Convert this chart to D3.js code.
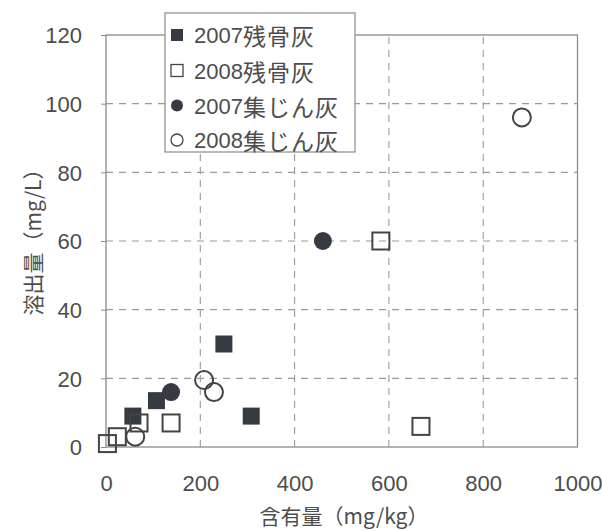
<!DOCTYPE html>
<html>
<head>
<meta charset="utf-8">
<script src="https://cdn.jsdelivr.net/npm/d3@7"></script>
<style>
  html, body { margin: 0; padding: 0; background: #fff; }
  svg { display: block; }
</style>
</head>
<body>
<svg id="chart" width="602" height="531"></svg>
<script>
// 含有量 (mg/kg) vs 溶出量 (mg/L)
const seriesNames = ["2007残骨灰", "2008残骨灰", "2007集じん灰", "2008集じん灰"];
const ash2007 = [[57, 9], [107, 13.5], [250, 30], [308, 9]];
const ash2008 = [[3, 1], [24, 3], [70, 7], [138, 7], [583, 60], [668, 6]];
const dust2007 = [[138, 16], [460, 60]];
const dust2008 = [[62, 3], [208, 19.5], [229, 16], [882, 96]];
const xTicks = [0, 200, 400, 600, 800, 1000];
const yTicks = [0, 20, 40, 60, 80, 100, 120];
const xTitle = "含有量（mg/kg）";
const yTitle = "溶出量（mg/L）";

const svg = d3.select("#chart");
const x = d3.scaleLinear().domain([0, 1000]).range([106, 577.5]);
const y = d3.scaleLinear().domain([0, 120]).range([447, 35]);

const textColor = "#4d4d4d";
const numFont = "'Liberation Sans', Arial, sans-serif";
const cjkFont = "'Noto Sans CJK JP', sans-serif";

// dashed grid
const grid = svg.append("g");
grid.selectAll("line.h").data(yTicks.filter(v => v > 0 && v < 120)).join("line")
  .attr("x1", x(0)).attr("x2", x(1000))
  .attr("y1", d => y(d)).attr("y2", d => y(d))
  .attr("stroke", "#9a9a9a").attr("stroke-width", 1.1).attr("stroke-dasharray", "7,6");
grid.selectAll("line.v").data(xTicks.filter(v => v > 0 && v < 1000)).join("line")
  .attr("y1", y(0)).attr("y2", y(120))
  .attr("x1", d => x(d)).attr("x2", d => x(d))
  .attr("stroke", "#9a9a9a").attr("stroke-width", 1.1).attr("stroke-dasharray", "7,6");

// plot frame
svg.append("rect")
  .attr("x", x(0)).attr("y", y(120))
  .attr("width", x(1000) - x(0)).attr("height", y(0) - y(120))
  .attr("fill", "none").attr("stroke", "#8a8a8a").attr("stroke-width", 1.3);

// axes
const yAxis = svg.append("g").attr("transform", `translate(${x(0)},0)`)
  .call(d3.axisLeft(y).tickValues(yTicks).tickSize(5).tickPadding(19));
const xAxis = svg.append("g").attr("transform", `translate(0,${y(0)})`)
  .call(d3.axisBottom(x).tickValues(xTicks).tickFormat(d3.format("d")).tickSize(0).tickPadding(36));
[xAxis, yAxis].forEach(g => {
  g.select(".domain").remove();
  g.selectAll(".tick line").attr("stroke", "#8a8a8a");
  g.selectAll(".tick text")
    .attr("fill", textColor).attr("font-family", numFont).attr("font-size", 22);
});
yAxis.selectAll(".tick text").attr("dy", "0.36em");
xAxis.selectAll(".tick text").attr("dy", "0.36em");

// axis titles
svg.append("text")
  .attr("x", 344).attr("y", 515)
  .attr("text-anchor", "middle").attr("dominant-baseline", "central")
  .attr("font-family", cjkFont).attr("font-size", 21).attr("fill", textColor)
  .text(xTitle);
svg.append("text")
  .attr("transform", "translate(32,237) rotate(-90)")
  .attr("text-anchor", "middle").attr("dominant-baseline", "central")
  .attr("font-family", cjkFont).attr("font-size", 21).attr("fill", textColor)
  .text(yTitle);

// markers
const markColor = "#444";
const fillColor = "#363a42";
const sq = 17, r = 9;
const marks = svg.append("g");
marks.selectAll("rect.a7").data(ash2007).join("rect")
  .attr("x", d => x(d[0]) - sq / 2).attr("y", d => y(d[1]) - sq / 2)
  .attr("width", sq).attr("height", sq).attr("fill", fillColor);
marks.selectAll("rect.a8").data(ash2008).join("rect")
  .attr("x", d => x(d[0]) - sq / 2).attr("y", d => y(d[1]) - sq / 2)
  .attr("width", sq).attr("height", sq)
  .attr("fill", "none").attr("stroke", markColor).attr("stroke-width", 2);
marks.selectAll("circle.d7").data(dust2007).join("circle")
  .attr("cx", d => x(d[0])).attr("cy", d => y(d[1])).attr("r", r)
  .attr("fill", fillColor);
marks.selectAll("circle.d8").data(dust2008).join("circle")
  .attr("cx", d => x(d[0])).attr("cy", d => y(d[1])).attr("r", r)
  .attr("fill", "none").attr("stroke", markColor).attr("stroke-width", 2);

// legend
const legend = svg.append("g");
legend.append("rect")
  .attr("x", 165).attr("y", 13).attr("width", 190).attr("height", 139)
  .attr("fill", "#fff").attr("stroke", "#8a8a8a").attr("stroke-width", 1.2);
const rowY = [35, 70.5, 105.5, 140];
const lx = 177, ls = 12;
legend.append("rect").attr("x", lx - ls / 2).attr("y", rowY[0] - ls / 2)
  .attr("width", ls).attr("height", ls).attr("fill", fillColor);
legend.append("rect").attr("x", lx - ls / 2).attr("y", rowY[1] - ls / 2)
  .attr("width", ls).attr("height", ls).attr("fill", "none")
  .attr("stroke", markColor).attr("stroke-width", 1.3);
legend.append("circle").attr("cx", lx).attr("cy", rowY[2]).attr("r", ls / 2)
  .attr("fill", fillColor);
legend.append("circle").attr("cx", lx).attr("cy", rowY[3]).attr("r", ls / 2)
  .attr("fill", "none").attr("stroke", markColor).attr("stroke-width", 1.3);
legend.selectAll("text").data(seriesNames).join("text")
  .attr("x", 194).attr("y", (d, i) => rowY[i])
  .attr("dominant-baseline", "central")
  .attr("fill", textColor)
  .each(function (d) {
    const t = d3.select(this);
    t.append("tspan").attr("font-family", numFont).attr("font-size", 22).text(d.slice(0, 4));
    t.append("tspan").attr("font-family", cjkFont).attr("font-size", 23)
      .attr("letter-spacing", 1).text(d.slice(4));
  });
</script>
</body>
</html>
